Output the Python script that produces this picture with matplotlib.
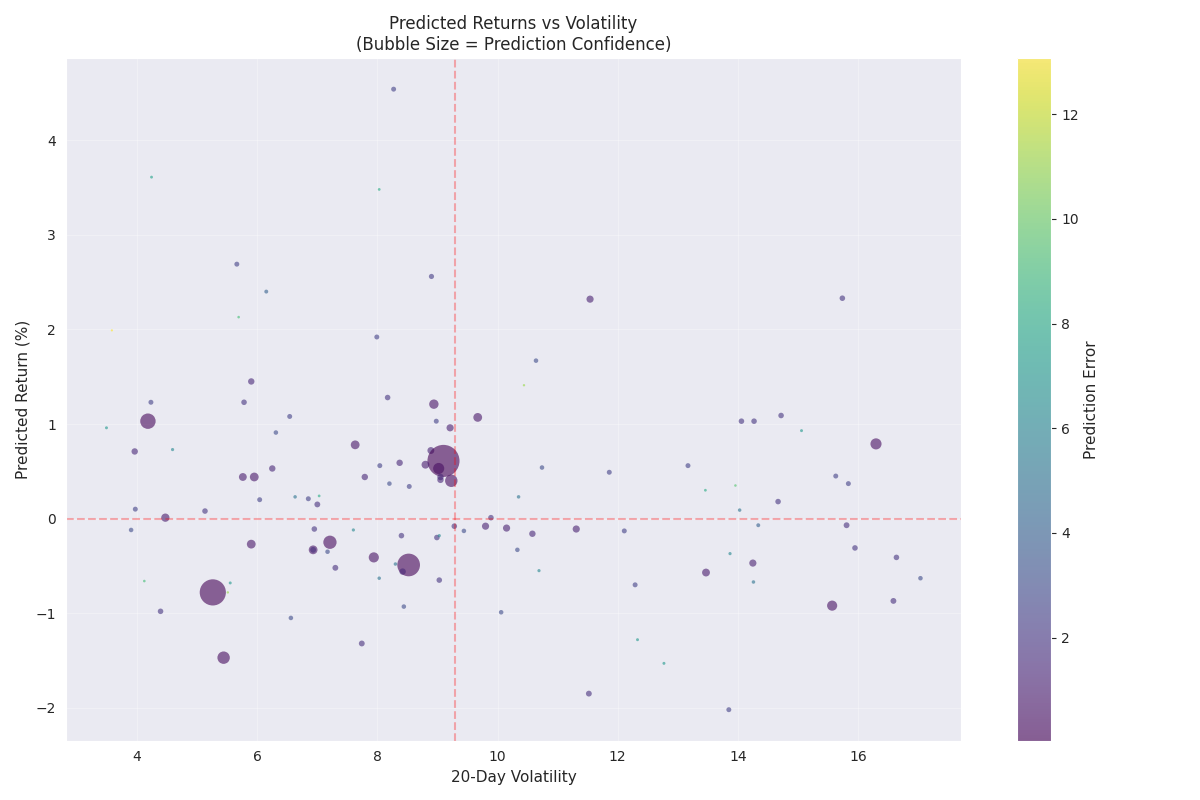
import numpy as np
import matplotlib
matplotlib.use("Agg")
import matplotlib.pyplot as plt
import seaborn as sns

# 20-day volatility, predicted return (%), prediction error
volatility = [8.27, 4.24, 8.03, 5.66, 6.15, 5.69, 8.90, 3.58, 7.99, 5.90,
              11.54, 15.74, 10.64, 10.44, 4.23, 5.78, 6.54, 4.18, 3.49, 6.31,
              7.63, 3.96, 4.59, 6.25, 5.76, 5.95, 7.79, 6.04, 6.63, 6.85,
              7.03, 7.00, 3.97, 5.13, 4.47, 3.90, 6.95, 7.60, 5.90, 6.93,
              6.93, 7.17, 7.21, 7.30, 4.12, 5.26, 5.55, 5.51, 4.39, 6.56,
              7.74, 5.44, 8.17, 8.94, 9.67, 8.98, 9.21, 8.89, 9.10, 8.04,
              8.37, 8.80, 9.02, 9.05, 9.05, 9.23, 8.20, 8.53, 10.74, 11.86,
              10.35, 9.89, 9.28, 9.44, 9.80, 10.15, 10.58, 11.31, 12.11, 8.40,
              8.99, 9.03, 10.33, 7.94, 8.52, 8.42, 8.30, 8.03, 9.03, 10.69,
              12.29, 8.44, 10.06, 12.33, 14.06, 14.27, 14.72, 15.06, 16.30, 13.17,
              15.63, 15.84, 13.46, 13.96, 14.67, 14.03, 14.34, 15.81, 15.95, 13.87,
              14.25, 13.47, 16.64, 17.04, 14.26, 15.57, 16.59, 12.77, 11.52, 13.85]

predicted_return = [4.54, 3.61, 3.48, 2.69, 2.40, 2.13, 2.56, 1.99, 1.92, 1.45,
                    2.32, 2.33, 1.67, 1.41, 1.23, 1.23, 1.08, 1.03, 0.96, 0.91,
                    0.78, 0.71, 0.73, 0.53, 0.44, 0.44, 0.44, 0.20, 0.23, 0.21,
                    0.24, 0.15, 0.10, 0.08, 0.01, -0.12, -0.11, -0.12, -0.27, -0.33,
                    -0.33, -0.35, -0.25, -0.52, -0.66, -0.78, -0.68, -0.78, -0.98, -1.05,
                    -1.32, -1.47, 1.28, 1.21, 1.07, 1.03, 0.96, 0.72, 0.61, 0.56,
                    0.59, 0.57, 0.53, 0.44, 0.41, 0.40, 0.37, 0.34, 0.54, 0.49,
                    0.23, 0.01, -0.08, -0.13, -0.08, -0.10, -0.16, -0.11, -0.13, -0.18,
                    -0.20, -0.18, -0.33, -0.41, -0.49, -0.56, -0.48, -0.63, -0.65, -0.55,
                    -0.70, -0.93, -0.99, -1.28, 1.03, 1.03, 1.09, 0.93, 0.79, 0.56,
                    0.45, 0.37, 0.30, 0.35, 0.18, 0.09, -0.07, -0.07, -0.31, -0.37,
                    -0.47, -0.57, -0.41, -0.63, -0.67, -0.92, -0.87, -1.53, -1.85, -2.02]

prediction_error = [2.5, 7.5, 8.0, 2.5, 4.0, 9.0, 2.3, 13.07, 2.5, 1.5,
                    1.2, 2.0, 3.0, 11.0, 2.5, 2.0, 2.5, 0.26, 7.0, 3.0,
                    0.8, 1.5, 6.0, 1.5, 1.0, 0.8, 1.5, 2.5, 5.0, 2.5,
                    8.0, 1.8, 2.5, 2.0, 0.9, 3.0, 2.0, 6.0, 0.8, 0.8,
                    1.8, 3.0, 0.35, 1.8, 9.0, 0.09, 7.0, 11.0, 2.0, 3.0,
                    1.8, 0.4, 2.0, 0.7, 0.8, 2.5, 1.2, 1.3, 0.06, 2.5,
                    1.5, 1.0, 0.5, 1.5, 1.5, 0.4, 3.0, 2.5, 3.0, 2.5,
                    5.0, 2.0, 2.0, 3.0, 1.2, 1.2, 1.5, 1.2, 2.5, 2.0,
                    2.0, 6.0, 3.0, 0.6, 0.12, 1.5, 5.0, 5.0, 2.0, 6.0,
                    2.5, 3.0, 3.0, 7.0, 2.0, 2.0, 2.0, 7.0, 0.5, 2.5,
                    2.5, 2.5, 8.0, 9.5, 2.0, 5.0, 4.0, 1.8, 2.0, 6.0,
                    1.2, 1.0, 2.0, 3.0, 5.0, 0.6, 1.8, 7.0, 1.8, 2.5]

volatility_mean = 9.29
error_min, error_max = 0.03, 13.07

vol = np.array(volatility)
ret = np.array(predicted_return)
err = np.array(prediction_error)
confidence = 1.0 / err

sns.set_style("darkgrid")
fig, ax = plt.subplots(figsize=(12, 8), dpi=100)
sc = ax.scatter(vol, ret, s=confidence * 32, c=err, cmap="viridis",
                vmin=error_min, vmax=error_max, alpha=0.6,
                edgecolors="none")
cbar = fig.colorbar(sc, ax=ax)
cbar.set_label("Prediction Error", fontsize=11)
ax.axhline(0, color="red", linestyle="--", alpha=0.3)
ax.axvline(volatility_mean, color="red", linestyle="--", alpha=0.3)
ax.grid(True, alpha=0.3)
ax.set_xlabel("20-Day Volatility", fontsize=11)
ax.set_ylabel("Predicted Return (%)", fontsize=11)
ax.set_title("Predicted Returns vs Volatility\n(Bubble Size = Prediction Confidence)", fontsize=12)
fig.tight_layout()
fig.savefig("out.png", dpi=100)
